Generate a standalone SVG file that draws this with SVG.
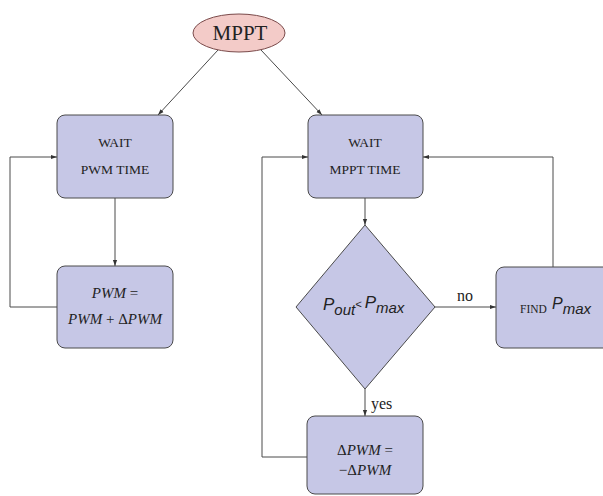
<svg xmlns="http://www.w3.org/2000/svg" width="603" height="496" viewBox="0 0 603 496">
<style>
.box{fill:#c6c7e6;stroke:#4a4a4a;stroke-width:1}
.conn{fill:none;stroke:#4a4a4a;stroke-width:1}
.t{font-family:"Liberation Serif",serif;font-size:13.5px;fill:#222;text-anchor:middle}
.m{font-family:"Liberation Serif",serif;font-size:15px;fill:#222;text-anchor:middle}
.s{font-family:"Liberation Sans",sans-serif;font-style:italic;fill:#222}
.lbl{font-family:"Liberation Serif",serif;font-size:16px;fill:#222}
</style>
<defs>
<marker id="ah" viewBox="0 0 10 10" refX="10" refY="5" markerWidth="6" markerHeight="6" orient="auto" markerUnits="userSpaceOnUse">
<path d="M0,1.5 L10,5 L0,8.5 z" fill="#333"/>
</marker>
</defs>
<rect width="603" height="496" fill="#ffffff"/>
<g id="connectors">
<line class="conn" x1="218" y1="50" x2="158" y2="115" marker-end="url(#ah)"/>
<line class="conn" x1="261" y1="50" x2="322" y2="115" marker-end="url(#ah)"/>
<line class="conn" x1="115" y1="198" x2="115" y2="266" marker-end="url(#ah)"/>
<polyline class="conn" points="57,307 10,307 10,157 57,157" marker-end="url(#ah)"/>
<line class="conn" x1="365" y1="198" x2="365" y2="225" marker-end="url(#ah)"/>
<line class="conn" x1="365" y1="389" x2="365" y2="416" marker-end="url(#ah)"/>
<text class="lbl" x="371" y="409">yes</text>
<line class="conn" x1="435" y1="307" x2="496" y2="307" marker-end="url(#ah)"/>
<text class="lbl" x="457" y="301">no</text>
<polyline class="conn" points="307,457 262,457 262,157 308,157" marker-end="url(#ah)"/>
<polyline class="conn" points="553,267 553,157 423,157" marker-end="url(#ah)"/>
</g>
<g id="mppt">
<ellipse cx="239" cy="33" rx="46" ry="19" fill="#f3cbc8" stroke="#7a4a4a" stroke-width="1"/>
<text x="240" y="40" font-family="Liberation Serif,serif" font-size="21" fill="#222" text-anchor="middle">MPPT</text>
</g>
<g id="wait-pwm">
<rect class="box" x="57" y="115" width="116" height="83" rx="8"/>
<text class="t" x="115" y="147">WAIT</text>
<text class="t" x="115" y="174">PWM  TIME</text>
</g>
<g id="pwm-update">
<rect class="box" x="57" y="266" width="116" height="82" rx="8"/>
<text class="m" x="115" y="298"><tspan font-style="italic">PWM</tspan> =</text>
<text class="m" x="115" y="324"><tspan font-style="italic">PWM</tspan> + Δ<tspan font-style="italic">PWM</tspan></text>
</g>
<g id="wait-mppt">
<rect class="box" x="308" y="115" width="115" height="83" rx="8"/>
<text class="t" x="365" y="147">WAIT</text>
<text class="t" x="365" y="174">MPPT  TIME</text>
</g>
<g id="decision">
<polygon class="box" points="365,225 435,307 365,389 296,307"/>
<text class="s" x="323" y="310" font-size="17">P<tspan font-size="15" dy="5">out</tspan><tspan font-size="11" dy="-7">&lt;</tspan><tspan font-size="17" dx="3" dy="0">P</tspan><tspan font-size="15" dy="5">max</tspan></text>
</g>
<g id="find-pmax">
<rect class="box" x="496" y="267" width="115" height="81" rx="8"/>
<text x="520" y="313" font-family="Liberation Serif,serif" font-size="11.5" fill="#222">FIND</text>
<text class="s" x="552" y="309" font-size="16">P<tspan font-size="15" dy="5">max</tspan></text>
</g>
<g id="dpwm-update">
<rect class="box" x="307" y="416" width="116" height="78" rx="8"/>
<text class="m" x="365" y="455">Δ<tspan font-style="italic">PWM</tspan> =</text>
<text class="m" x="365" y="475">−Δ<tspan font-style="italic">PWM</tspan></text>
</g>
</svg>
